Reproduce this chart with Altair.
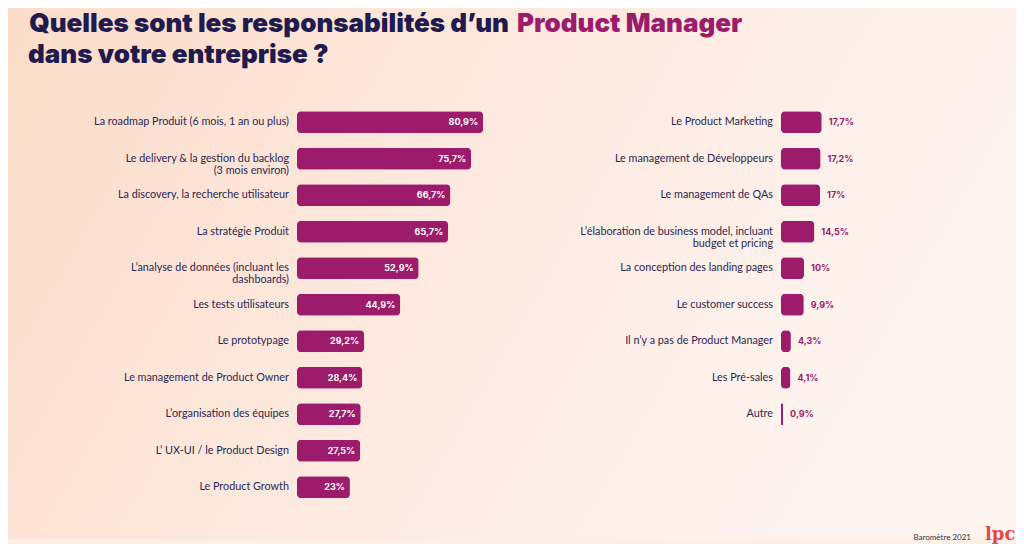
import altair as alt
import pandas as pd

# ---------------- data ----------------
left_labels = [
    "La roadmap Produit (6 mois, 1 an ou plus)",
    "Le delivery & la gestion du backlog\n(3 mois environ)",
    "La discovery, la recherche utilisateur",
    "La stratégie Produit",
    "L’analyse de données (incluant les\ndashboards)",
    "Les tests utilisateurs",
    "Le prototypage",
    "Le management de Product Owner",
    "L’organisation des équipes",
    "L’ UX-UI / le Product Design",
    "Le Product Growth",
]
left_values = [80.9, 75.7, 66.7, 65.7, 52.9, 44.9, 29.2, 28.4, 27.7, 27.5, 23]

right_labels = [
    "Le Product Marketing",
    "Le management de Développeurs",
    "Le management de QAs",
    "L’élaboration de business model, incluant\nbudget et pricing",
    "La conception des landing pages",
    "Le customer success",
    "Il n’y a pas de Product Manager",
    "Les Pré-sales",
    "Autre",
]
right_values = [17.7, 17.2, 17, 14.5, 10, 9.9, 4.3, 4.1, 0.9]

title_part1 = "Quelles sont les responsabilités d’un"
title_part2 = "Product Manager"
title_line2 = "dans votre entreprise ?"
footer_text = "Baromètre 2021"
logo_text = "lpc"

# ---------------- style ----------------
BAR = "#9c1c6b"
NAVY = "#1f1b4e"
LABEL = "#2b2752"
FONT = "Lato"
TFONT = "Inter"
STEP = 36.5
PANEL_W = 230


def fmt(v):
    return f"{v:g}".replace(".", ",") + "%"


def frame(labels, values):
    return pd.DataFrame({"label": labels, "value": values,
                         "txt": [fmt(v) for v in values]})


def panel(df, inside):
    base = alt.Chart(df).encode(
        y=alt.Y("label:N", sort=None, axis=None,
                scale=alt.Scale(paddingInner=0.4, paddingOuter=0.2)),
    )
    x = alt.X("value:Q", axis=None, scale=alt.Scale(domain=[0, 100]))
    bars = base.mark_bar(color=BAR, cornerRadius=4, size=22).encode(x=x)
    labels = base.mark_text(align="right", baseline="middle", font=FONT,
                            fontSize=10.8, color=LABEL, lineBreak="\n",
                            lineHeight=12, dx=-8).encode(x=alt.value(0),
                                                         text="label:N")
    if inside:
        vals = base.mark_text(align="right", baseline="middle", font=TFONT,
                              fontSize=9, fontWeight="bold", color="white",
                              dx=-5).encode(x=x, text="txt:N")
    else:
        vals = base.mark_text(align="left", baseline="middle", font=TFONT,
                              fontSize=9, fontWeight="bold", color=BAR,
                              dx=7).encode(x=x, text="txt:N")
    return bars, labels, vals


left_df = frame(left_labels, left_values)
right_df = frame(right_labels, right_values)

lb, ll, lv = panel(left_df, True)
rb, rl, rv = panel(right_df, False)

one = pd.DataFrame({"a": [0]})
gradient = alt.Gradient(
    gradient="linear", x1=0, x2=1, y1=0, y2=0.3,
    stops=[alt.GradientStop(offset=0, color="#fbdcc9"),
           alt.GradientStop(offset=0.5, color="#fde9df"),
           alt.GradientStop(offset=1, color="#fdf4f0")],
)
bg = alt.Chart(one).mark_rect(color=gradient).encode(
    x=alt.value(-289), x2=alt.value(719),
    y=alt.value(-95.75), y2=alt.value(435.25),
)

t1 = alt.Chart(pd.DataFrame({"t": [title_part1]})).mark_text(
    align="right", baseline="alphabetic", font=TFONT, fontSize=26,
    fontWeight=900, color=NAVY,
).encode(x=alt.value(212), y=alt.value(-72.5), text="t:N")
t2 = alt.Chart(pd.DataFrame({"t": [title_part2]})).mark_text(
    align="left", baseline="alphabetic", font=TFONT, fontSize=26,
    fontWeight=900, color=BAR,
).encode(x=alt.value(220), y=alt.value(-72.5), text="t:N")
t3 = alt.Chart(pd.DataFrame({"t": [title_line2]})).mark_text(
    align="left", baseline="alphabetic", font=TFONT, fontSize=26,
    fontWeight=900, color=NAVY,
).encode(x=alt.value(-269), y=alt.value(-41.5), text="t:N")

foot = alt.Chart(pd.DataFrame({"t": [footer_text]})).mark_text(
    align="right", baseline="alphabetic", font=FONT, fontSize=8,
    color="#333344",
).encode(x=alt.value(190), y=alt.value(436), text="t:N")
logo = alt.Chart(pd.DataFrame({"t": [logo_text]})).mark_text(
    align="left", baseline="alphabetic", font="DejaVu Serif", fontSize=18,
    fontWeight="bold", color="#e04a44",
).encode(x=alt.value(204), y=alt.value(436), text="t:N")

left = alt.layer(bg, t1, t2, t3, lb, ll, lv).properties(
    width=PANEL_W, height=alt.Step(STEP))
right = alt.layer(rb, rl, rv, foot, logo).properties(
    width=PANEL_W, height=alt.Step(STEP))

chart = alt.hconcat(left, right, spacing=254, bounds="flush").properties(
    padding=0, background="#fdeee6",
).configure_view(strokeWidth=0)

chart.save("out.html", embed_options={"renderer": "svg", "actions": False})
